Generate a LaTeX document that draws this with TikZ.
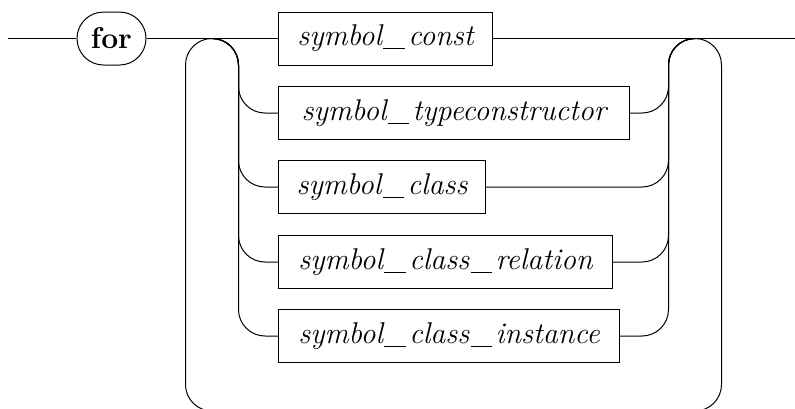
\documentclass[tikz,border=0pt]{standalone}
\newcommand\uscore{\kern0.5pt\rule[-1.3pt]{8.6pt}{0.4pt}\kern1.4pt}
\begin{document}
\begin{tikzpicture}[x=0.4pt,y=-0.4pt,
  line width=0.4pt,
  rr/.style={rounded corners=10.6pt},
  term/.style={draw, rounded corners=10.6pt, minimum width=27.6pt, minimum height=21.2pt, inner sep=0pt, font=\fontsize{12}{14}\selectfont\bfseries},
  nonterm/.style={draw, anchor=west, minimum height=21.2pt, inner sep=0pt, font=\fontsize{12}{14}\selectfont\itshape}]
\useasboundingbox (0,0) rectangle (795,408);
\coordinate (start) at (8,38.5);
\coordinate (end) at (795,38.5);
\coordinate (splitL) at (212,38.5);
\coordinate (railL) at (238.5,38.5);
\coordinate (outL) at (185.5,38.5);
\coordinate (splitR) at (695,38.5);
\coordinate (railR) at (668.5,38.5);
\coordinate (outR) at (721.5,411);
\node[term] (for) at (111.5,38.5) {for};
\node[nonterm, minimum width=85.6pt] (b1) at (278,38.5) {symbol\uscore const};
\node[nonterm, minimum width=140.4pt] (b2) at (278,113) {symbol\uscore typeconstructor};
\node[nonterm, minimum width=82.8pt] (b3) at (278,187) {symbol\uscore class};
\node[nonterm, minimum width=133.6pt] (b4) at (278,262) {symbol\uscore class\uscore relation};
\node[nonterm, minimum width=136.4pt] (b5) at (278,336) {symbol\uscore class\uscore instance};
\draw (start) -- (for.west);
\draw (for.east) -- (b1.west);
\draw (b1.east) -- (end);
\foreach \b in {b2,b3,b4,b5}{
  \draw[rr] (splitL) -| (railL |- \b.west) -- (\b.west);
  \draw[rr] (\b.east) -- (railR |- \b.east) |- (splitR);
}
\draw[rr] (splitR) -| (outR) -| (outL) -- (splitL);
\end{tikzpicture}
\end{document}
